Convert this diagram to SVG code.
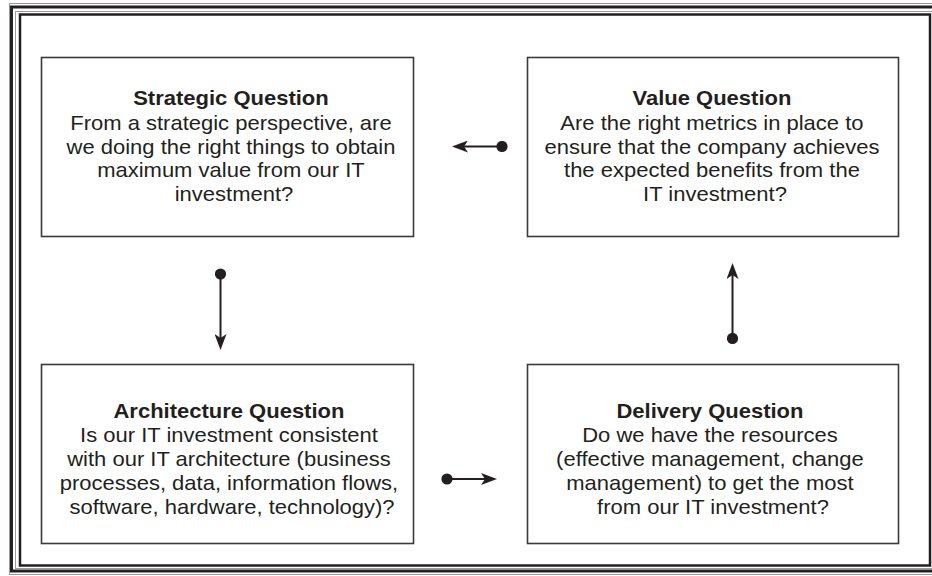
<svg xmlns="http://www.w3.org/2000/svg" width="932" height="576" viewBox="0 0 932 576">
<style>
.frame{fill:none;stroke:#231f20}
.gray{fill:none;stroke:#9a9a9a;stroke-width:1}
.box{fill:#ffffff;stroke:#3a3a3a;stroke-width:1.6}
.t{font-family:"Liberation Sans",Arial,sans-serif;font-size:20px;fill:#231f20;text-anchor:middle}
.b{font-weight:bold}
.conn{stroke:#231f20;stroke-width:2;fill:none;marker-start:url(#dot);marker-end:url(#arr)}
</style>
<defs>
<marker id="arr" viewBox="0 0 16 12" refX="4" refY="6" markerWidth="16" markerHeight="12" markerUnits="userSpaceOnUse" orient="auto">
<path d="M0,0 L16,6 L0,12 L4,6 z" fill="#231f20"/>
</marker>
<marker id="dot" viewBox="0 0 12 12" refX="6" refY="6" markerWidth="12" markerHeight="12" markerUnits="userSpaceOnUse" orient="auto">
<circle cx="6" cy="6" r="5.6" fill="#231f20"/>
</marker>
</defs>
<rect width="932" height="576" fill="#ffffff"/>
<g id="border">
<rect class="gray" x="9.5" y="3.5" width="940" height="571"/>
<rect class="frame" x="11.5" y="7" width="940" height="564" stroke-width="3"/>
<rect class="gray" x="15.5" y="11.5" width="920" height="557"/>
<rect class="frame" x="20" y="14.5" width="910" height="551" stroke-width="2.5"/>
</g>
<g id="strategic">
<rect class="box" x="41.5" y="57.5" width="372" height="179"/>
<text class="t" transform="translate(234,0) scale(1.1,1)">
<tspan class="b" x="0" y="105.5">Strategic Question</tspan>
<tspan x="0" y="130">From a strategic perspective, are</tspan>
<tspan x="0" y="154">we doing the right things to obtain</tspan>
<tspan x="0" y="177.5">maximum value from our IT</tspan>
<tspan x="0" y="201.5">investment?</tspan>
</text>
</g>
<g id="value">
<rect class="box" x="527.5" y="57.5" width="371" height="179"/>
<text class="t" transform="translate(715,0) scale(1.1,1)">
<tspan class="b" x="0" y="105.5">Value Question</tspan>
<tspan x="0" y="130">Are the right metrics in place to</tspan>
<tspan x="0" y="154">ensure that the company achieves</tspan>
<tspan x="0" y="177.5">the expected benefits from the</tspan>
<tspan x="0" y="201.5">IT investment?</tspan>
</text>
</g>
<g id="architecture">
<rect class="box" x="41.5" y="364.5" width="372" height="179"/>
<text class="t" transform="translate(232,0) scale(1.1,1)">
<tspan class="b" x="0" y="418.5">Architecture Question</tspan>
<tspan x="0" y="442.5">Is our IT investment consistent</tspan>
<tspan x="0" y="466.5">with our IT architecture (business</tspan>
<tspan x="0" y="490">processes, data, information flows,</tspan>
<tspan x="0" y="514">software, hardware, technology)?</tspan>
</text>
</g>
<g id="delivery">
<rect class="box" x="527.5" y="364.5" width="371" height="179"/>
<text class="t" transform="translate(713,0) scale(1.1,1)">
<tspan class="b" x="0" y="418.5">Delivery Question</tspan>
<tspan x="0" y="442.5">Do we have the resources</tspan>
<tspan x="0" y="466.5">(effective management, change</tspan>
<tspan x="0" y="490">management) to get the most</tspan>
<tspan x="0" y="514">from our IT investment?</tspan>
</text>
</g>
<g id="connectors">
<line class="conn" x1="502" y1="146.5" x2="464" y2="146.5"/>
<line class="conn" x1="220.5" y1="274" x2="220.5" y2="338"/>
<line class="conn" x1="732.5" y1="338.5" x2="732.5" y2="275"/>
<line class="conn" x1="447" y1="479" x2="485" y2="479"/>
</g>
</svg>
